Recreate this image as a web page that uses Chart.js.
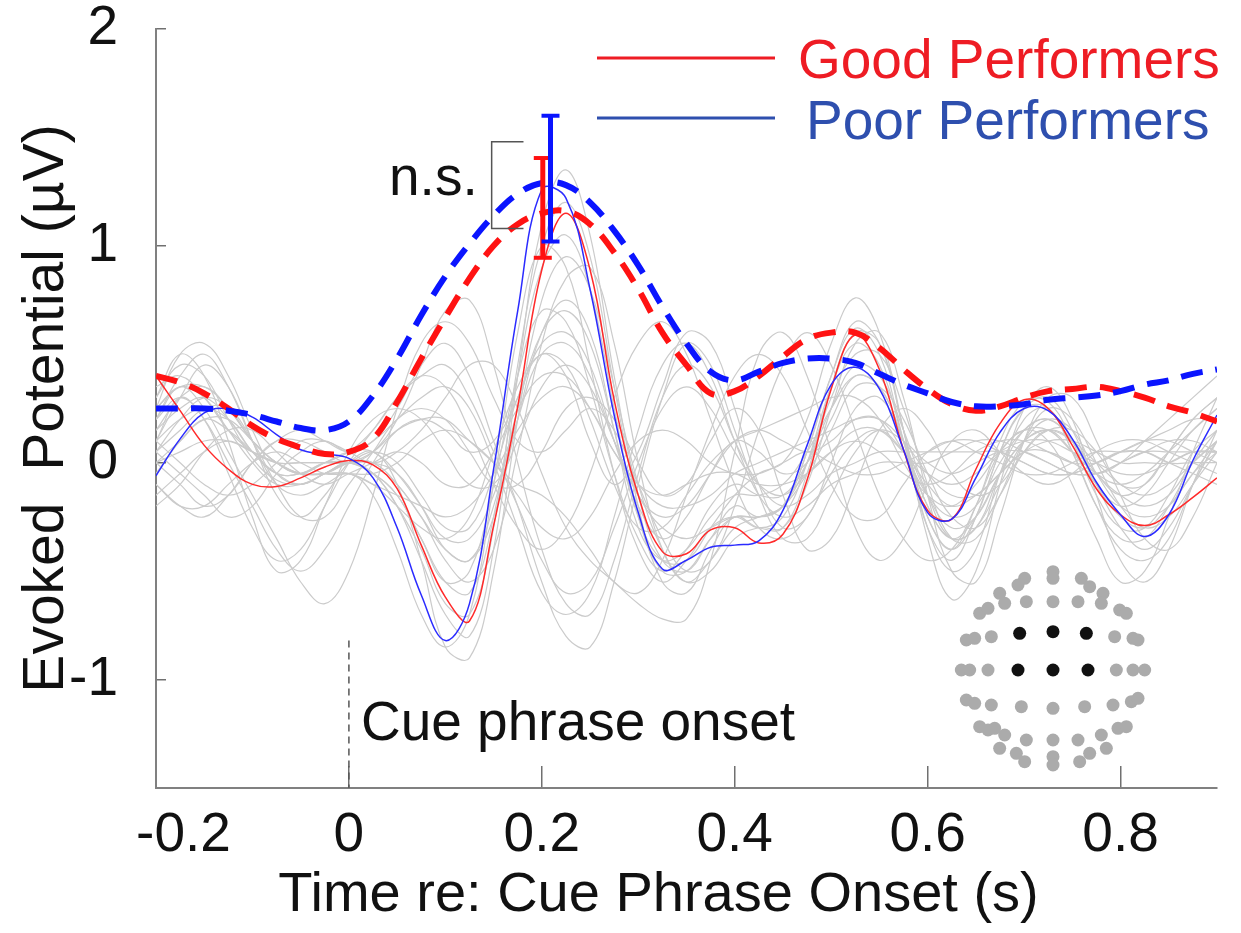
<!DOCTYPE html>
<html>
<head>
<meta charset="utf-8">
<script src="https://cdn.jsdelivr.net/npm/chart.js@4.4.1/dist/chart.umd.min.js"></script>
<style>
  body { margin: 0; background: #fff; }
  #wrap { width: 1241px; height: 933px; }
</style>
</head>
<body>
<div id="wrap"><canvas id="myChart" width="1241" height="933"></canvas></div>
<script>
// Eje de tiempo (s), cada 25 ms
const times = [-0.2, -0.175, -0.15, -0.125, -0.1, -0.075, -0.05, -0.025, 0, 0.025, 0.05, 0.075, 0.1, 0.125, 0.15,
  0.175, 0.2, 0.225, 0.25, 0.275, 0.3, 0.325, 0.35, 0.375, 0.4, 0.425, 0.45, 0.475, 0.5, 0.525, 0.55,
  0.575, 0.6, 0.625, 0.65, 0.675, 0.7, 0.725, 0.75, 0.775, 0.8, 0.825, 0.85, 0.875, 0.9]

// Promedios por grupo (linea fina)
const goodMean = [0.40, 0.24, 0.08, -0.03, -0.10, -0.11, -0.07, -0.02, 0.01, -0.01, -0.12, -0.38, -0.62, -0.73, -0.29,
  0.26, 0.89, 1.15, 0.89, 0.29, -0.15, -0.41, -0.42, -0.31, -0.30, -0.37, -0.33, -0.08, 0.34, 0.59, 0.43,
  0.06, -0.22, -0.26, -0.03, 0.18, 0.29, 0.25, 0.08, -0.12, -0.24, -0.29, -0.24, -0.16, -0.07]
const poorMean = [-0.06, 0.11, 0.23, 0.25, 0.21, 0.13, 0.06, 0.04, 0.02, -0.07, -0.30, -0.61, -0.82, -0.65, -0.03,
  0.70, 1.26, 1.22, 0.80, 0.22, -0.23, -0.49, -0.45, -0.39, -0.38, -0.36, -0.22, 0.08, 0.36, 0.44, 0.34,
  0.06, -0.23, -0.26, -0.07, 0.14, 0.25, 0.24, 0.11, -0.09, -0.24, -0.34, -0.24, 0.01, 0.22]

// Envolventes (linea discontinua gruesa)
const goodEnv = [0.40, 0.37, 0.32, 0.25, 0.17, 0.11, 0.07, 0.04, 0.05, 0.11, 0.28, 0.48, 0.67, 0.85, 1.00,
  1.10, 1.15, 1.16, 1.10, 0.97, 0.80, 0.60, 0.45, 0.32, 0.33, 0.40, 0.49, 0.57, 0.60, 0.60, 0.53,
  0.43, 0.34, 0.27, 0.24, 0.26, 0.30, 0.33, 0.34, 0.35, 0.33, 0.30, 0.26, 0.23, 0.19]
const poorEnv = [0.25, 0.25, 0.25, 0.24, 0.22, 0.19, 0.16, 0.15, 0.19, 0.31, 0.48, 0.68, 0.86, 1.01, 1.14,
  1.24, 1.29, 1.28, 1.20, 1.07, 0.91, 0.72, 0.55, 0.42, 0.38, 0.42, 0.46, 0.48, 0.48, 0.46, 0.41,
  0.36, 0.32, 0.28, 0.26, 0.26, 0.27, 0.29, 0.30, 0.31, 0.33, 0.36, 0.38, 0.41, 0.43]

// Canales individuales (gris)
const channels = [
  [0.30, 0.45, 0.40, 0.20, 0.02, -0.08, -0.10, -0.05, 0.00, -0.05, -0.20, -0.45, -0.70, -0.80, -0.40, 0.40, 1.10, 1.35, 1.05, 0.40, -0.15, -0.45, -0.50, -0.35, -0.20, -0.25, -0.20, 0.05, 0.40, 0.62, 0.50, 0.10, -0.30, -0.45, -0.25, 0.05, 0.25, 0.30, 0.15, -0.10, -0.30, -0.40, -0.30, -0.10, 0.10],
  [0.10, 0.30, 0.45, 0.35, 0.10, -0.15, -0.25, -0.15, 0.00, 0.05, -0.10, -0.45, -0.85, -0.90, -0.50, 0.20, 0.75, 0.95, 0.80, 0.35, -0.10, -0.40, -0.55, -0.50, -0.35, -0.30, -0.30, -0.10, 0.25, 0.55, 0.60, 0.30, -0.15, -0.50, -0.55, -0.25, 0.10, 0.30, 0.30, 0.10, -0.15, -0.35, -0.40, -0.25, 0.00],
  [0.05, -0.05, -0.15, -0.25, -0.20, -0.05, 0.05, 0.10, 0.05, 0.10, 0.25, 0.45, 0.55, 0.40, 0.10, -0.20, -0.55, -0.80, -0.85, -0.55, -0.10, 0.30, 0.55, 0.45, 0.15, -0.15, -0.35, -0.35, -0.15, 0.05, 0.15, 0.10, 0.00, -0.05, 0.00, 0.05, 0.05, 0.00, -0.05, -0.05, 0.00, 0.05, 0.10, 0.10, 0.05],
  [0.20, 0.35, 0.25, 0.05, -0.15, -0.35, -0.55, -0.65, -0.50, -0.15, 0.25, 0.55, 0.65, 0.55, 0.30, 0.10, 0.05, 0.15, 0.25, 0.15, -0.10, -0.35, -0.50, -0.45, -0.20, 0.15, 0.45, 0.60, 0.45, 0.15, -0.15, -0.35, -0.45, -0.40, -0.20, 0.05, 0.15, 0.15, 0.05, -0.05, -0.10, -0.05, 0.05, 0.15, 0.25],
  [-0.15, -0.05, 0.05, 0.10, 0.05, 0.00, -0.05, -0.05, -0.05, -0.10, -0.15, -0.20, -0.25, -0.20, -0.05, 0.15, 0.30, 0.35, 0.25, 0.05, -0.10, -0.15, -0.10, -0.05, -0.05, -0.10, -0.10, -0.05, 0.05, 0.15, 0.15, 0.05, -0.05, -0.10, -0.05, 0.05, 0.10, 0.10, 0.05, 0.00, -0.05, -0.05, 0.00, 0.05, 0.05],
  [0.25, 0.50, 0.55, 0.40, 0.15, -0.05, -0.10, -0.05, 0.00, -0.05, -0.15, -0.35, -0.55, -0.50, -0.10, 0.40, 0.70, 0.65, 0.35, -0.05, -0.35, -0.50, -0.40, -0.20, -0.10, -0.15, -0.15, 0.00, 0.25, 0.45, 0.40, 0.15, -0.15, -0.35, -0.30, -0.10, 0.10, 0.20, 0.15, -0.05, -0.20, -0.25, -0.20, -0.05, 0.05],
  [0.00, 0.10, 0.20, 0.15, 0.05, -0.05, -0.05, 0.00, 0.05, 0.15, 0.30, 0.40, 0.35, 0.15, -0.10, -0.30, -0.40, -0.30, -0.05, 0.30, 0.55, 0.65, 0.50, 0.20, -0.10, -0.30, -0.35, -0.25, -0.05, 0.10, 0.15, 0.05, -0.10, -0.20, -0.15, -0.05, 0.05, 0.05, 0.00, -0.05, 0.00, 0.10, 0.20, 0.30, 0.40],
  [0.10, 0.00, -0.10, -0.15, -0.10, 0.00, 0.10, 0.10, 0.05, 0.00, 0.05, 0.15, 0.30, 0.45, 0.45, 0.25, -0.05, -0.30, -0.45, -0.55, -0.65, -0.72, -0.72, -0.45, 0.05, 0.50, 0.60, 0.40, 0.05, -0.30, -0.45, -0.35, -0.10, 0.10, 0.15, 0.05, -0.05, -0.10, -0.05, 0.05, 0.10, 0.10, 0.05, 0.00, -0.05],
  [0.15, 0.30, 0.35, 0.25, 0.10, 0.00, -0.05, -0.05, 0.00, 0.00, -0.10, -0.25, -0.40, -0.45, -0.20, 0.25, 0.60, 0.70, 0.55, 0.15, -0.25, -0.45, -0.45, -0.30, -0.15, -0.05, 0.00, 0.20, 0.55, 0.76, 0.60, 0.15, -0.35, -0.63, -0.50, -0.10, 0.25, 0.35, 0.20, -0.15, -0.45, -0.55, -0.40, -0.10, 0.15],
  [-0.05, 0.10, 0.20, 0.20, 0.10, 0.00, -0.05, -0.05, -0.05, -0.10, -0.20, -0.30, -0.35, -0.25, 0.05, 0.35, 0.50, 0.45, 0.20, -0.10, -0.30, -0.30, -0.15, 0.00, 0.10, 0.15, 0.20, 0.25, 0.30, 0.30, 0.20, 0.00, -0.15, -0.20, -0.10, 0.05, 0.15, 0.10, -0.10, -0.35, -0.55, -0.50, -0.25, 0.05, 0.30],
  [0.20, 0.30, 0.20, -0.05, -0.30, -0.45, -0.40, -0.20, 0.00, 0.15, 0.30, 0.40, 0.45, 0.30, 0.05, -0.20, -0.45, -0.60, -0.55, -0.30, 0.00, 0.25, 0.35, 0.25, 0.05, -0.10, -0.15, -0.05, 0.05, 0.10, 0.05, -0.05, -0.10, -0.05, 0.05, 0.10, 0.10, 0.05, 0.00, 0.00, 0.05, 0.10, 0.15, 0.20, 0.20],
  [0.35, 0.40, 0.30, 0.15, 0.05, 0.00, 0.00, 0.00, 0.00, -0.05, -0.20, -0.40, -0.65, -0.70, -0.30, 0.45, 1.00, 1.20, 0.95, 0.35, -0.20, -0.55, -0.60, -0.40, -0.25, -0.30, -0.30, -0.05, 0.35, 0.60, 0.55, 0.15, -0.25, -0.40, -0.20, 0.10, 0.28, 0.28, 0.10, -0.15, -0.30, -0.30, -0.15, 0.05, 0.15],
  [-0.20, -0.10, 0.05, 0.15, 0.15, 0.05, -0.05, -0.10, -0.05, 0.00, 0.05, 0.00, -0.10, -0.10, 0.05, 0.25, 0.40, 0.40, 0.25, 0.05, -0.10, -0.20, -0.20, -0.15, -0.05, 0.00, 0.05, 0.10, 0.15, 0.20, 0.20, 0.10, -0.05, -0.15, -0.15, -0.05, 0.05, 0.10, 0.10, 0.05, 0.00, 0.00, 0.00, 0.05, 0.05],
  [0.05, 0.15, 0.25, 0.25, 0.10, -0.10, -0.25, -0.25, -0.10, 0.05, 0.20, 0.25, 0.20, 0.05, -0.10, -0.10, 0.05, 0.25, 0.30, 0.20, 0.00, -0.15, -0.10, 0.10, 0.25, 0.15, -0.15, -0.40, -0.35, -0.10, 0.15, 0.25, 0.15, -0.05, -0.15, -0.10, 0.05, 0.15, 0.15, 0.05, -0.10, -0.10, 0.05, 0.20, 0.30],
  [0.25, 0.35, 0.30, 0.15, 0.00, -0.10, -0.10, -0.05, 0.00, 0.00, -0.10, -0.25, -0.45, -0.55, -0.40, 0.05, 0.55, 0.85, 0.90, 0.55, 0.00, -0.40, -0.55, -0.45, -0.30, -0.25, -0.20, 0.00, 0.30, 0.50, 0.50, 0.25, -0.10, -0.35, -0.35, -0.15, 0.10, 0.25, 0.20, 0.00, -0.20, -0.30, -0.25, -0.10, 0.05],
  [0.00, -0.10, -0.20, -0.15, 0.00, 0.10, 0.15, 0.10, 0.05, 0.10, 0.20, 0.30, 0.35, 0.25, 0.00, -0.30, -0.60, -0.70, -0.60, -0.25, 0.15, 0.45, 0.55, 0.40, 0.10, -0.15, -0.25, -0.20, -0.10, -0.05, 0.00, 0.00, 0.00, 0.05, 0.10, 0.10, 0.05, 0.00, -0.05, -0.05, 0.00, 0.05, 0.05, 0.05, 0.05],
  [0.05, 0.20, 0.30, 0.25, 0.10, 0.00, -0.05, 0.00, 0.05, 0.05, -0.05, -0.20, -0.35, -0.35, -0.15, 0.20, 0.50, 0.55, 0.40, 0.10, -0.15, -0.30, -0.35, -0.30, -0.25, -0.25, -0.20, -0.05, 0.15, 0.35, 0.35, 0.20, -0.05, -0.25, -0.30, -0.15, 0.05, 0.15, 0.10, -0.05, -0.15, -0.20, -0.15, 0.00, 0.10],
  [0.10, 0.30, 0.20, 0.00, -0.20, -0.40, -0.50, -0.40, -0.20, 0.00, 0.15, 0.20, 0.15, 0.05, 0.10, 0.30, 0.55, 0.60, 0.45, 0.10, -0.20, -0.35, -0.25, -0.05, 0.10, 0.05, -0.05, 0.00, 0.20, 0.40, 0.35, 0.10, -0.20, -0.35, -0.25, -0.05, 0.10, 0.15, 0.05, -0.10, -0.20, -0.15, 0.00, 0.15, 0.25],
  [0.20, 0.40, 0.50, 0.35, 0.10, -0.10, -0.15, -0.10, -0.05, -0.15, -0.40, -0.70, -0.85, -0.70, -0.10, 0.60, 1.00, 0.90, 0.45, -0.05, -0.40, -0.55, -0.45, -0.30, -0.25, -0.30, -0.25, 0.00, 0.35, 0.55, 0.45, 0.10, -0.25, -0.40, -0.25, 0.05, 0.25, 0.25, 0.05, -0.20, -0.35, -0.35, -0.20, 0.00, 0.15],
  [-0.10, -0.20, -0.25, -0.15, 0.00, 0.10, 0.10, 0.05, 0.00, 0.05, 0.20, 0.45, 0.70, 0.75, 0.45, 0.00, -0.40, -0.65, -0.70, -0.45, -0.05, 0.30, 0.45, 0.35, 0.10, -0.10, -0.20, -0.15, -0.05, 0.00, 0.05, 0.05, 0.05, 0.05, 0.05, 0.05, 0.00, -0.05, -0.05, 0.00, 0.05, 0.10, 0.10, 0.05, 0.00],
  [0.30, 0.50, 0.40, 0.10, -0.25, -0.50, -0.45, -0.20, 0.05, 0.20, 0.25, 0.20, 0.05, -0.10, -0.10, 0.10, 0.35, 0.45, 0.35, 0.10, -0.15, -0.25, -0.20, -0.05, 0.10, 0.15, 0.10, 0.05, 0.10, 0.20, 0.20, 0.05, -0.15, -0.25, -0.20, 0.00, 0.15, 0.20, 0.10, -0.05, -0.15, -0.10, 0.05, 0.20, 0.30],
  [0.10, 0.20, 0.25, 0.20, 0.05, -0.05, -0.10, -0.05, 0.00, 0.05, 0.00, -0.15, -0.30, -0.30, -0.05, 0.30, 0.50, 0.40, 0.10, -0.10, 0.05, 0.35, 0.60, 0.55, 0.25, -0.10, -0.30, -0.25, 0.00, 0.25, 0.30, 0.10, -0.15, -0.30, -0.25, -0.05, 0.10, 0.15, 0.10, 0.00, -0.10, -0.15, -0.10, 0.00, 0.10],
  [-0.10, -0.20, -0.20, -0.10, 0.00, 0.05, 0.00, -0.05, -0.05, -0.05, 0.00, 0.10, 0.15, 0.10, 0.00, -0.15, -0.30, -0.35, -0.25, -0.05, 0.10, 0.15, 0.10, 0.00, -0.05, -0.05, 0.00, 0.05, 0.00, -0.05, -0.05, 0.00, 0.05, 0.10, 0.10, 0.05, 0.00, -0.05, -0.05, 0.00, 0.05, 0.05, 0.00, -0.05, -0.10],
  [0.25, 0.35, 0.35, 0.25, 0.10, 0.00, -0.05, 0.00, 0.00, -0.05, -0.15, -0.35, -0.55, -0.60, -0.25, 0.40, 0.90, 1.05, 0.80, 0.25, -0.25, -0.50, -0.50, -0.35, -0.25, -0.25, -0.20, 0.05, 0.40, 0.65, 0.55, 0.15, -0.30, -0.50, -0.40, -0.05, 0.20, 0.25, 0.05, -0.20, -0.40, -0.45, -0.35, -0.10, 0.10],
  [0.00, 0.05, 0.10, 0.10, 0.05, 0.00, 0.00, 0.00, 0.00, 0.05, 0.15, 0.20, 0.20, 0.10, 0.00, -0.10, -0.15, -0.25, -0.40, -0.55, -0.60, -0.45, -0.15, 0.15, 0.40, 0.50, 0.40, 0.15, -0.10, -0.25, -0.25, -0.10, 0.05, 0.10, 0.05, 0.00, -0.05, -0.05, 0.00, 0.05, 0.05, 0.05, 0.00, 0.00, 0.00],
  [0.15, 0.25, 0.30, 0.20, 0.05, -0.05, -0.05, 0.00, 0.00, 0.00, -0.05, -0.20, -0.40, -0.45, -0.25, 0.20, 0.60, 0.75, 0.60, 0.15, -0.30, -0.45, -0.40, -0.25, -0.15, -0.15, -0.10, 0.05, 0.25, 0.40, 0.35, 0.10, -0.20, -0.35, -0.30, -0.05, 0.15, 0.20, 0.10, -0.10, -0.25, -0.30, -0.20, -0.05, 0.10]
]

// Barras de error en el pico: [tiempo, minimo, maximo]
const goodErr = [0.201, 0.945, 1.405]
const poorErr = [0.209, 1.02, 1.60]

// Corchete "n.s.": esquinas
const nsX = [0.181, 0.148, 0.148, 0.181]
const nsY = [1.48, 1.48, 1.08, 1.08]

// Linea de inicio de la frase
const onsetX = [0, 0]
const onsetY = [-0.82, -1.5]

// Ticks
const xTicks = [-0.2, 0, 0.2, 0.4, 0.6, 0.8]
const yTicks = [-1, 0, 1, 2]

// Mapa de electrodos (coordenadas en la cabeza)
const headU = [0, 0, -0.85, -1.05, 0.85, 1.1,
  -1.6, -1.45, -0.8, 0, 0.75, 1.5, 1.45,
  -2.2, -1.95, 2.0, 2.2,
  -2.6, -2.35, -1.85, 1.85, 2.4, 2.55,
  -2.75, -2.5, -1.95, 1.9, 2.4, 2.75,
  -2.6, -2.35, -1.85, -0.95, 0, 0.95, 1.8, 2.35, 2.55,
  -2.2, -1.95, -1.75, -1.45, -0.8, 0, 0.75, 1.45, 1.95, 2.2,
  -1.6, -1.1, -0.85, 0, 0, 0.8, 1.1, 1.6]
const headV = [2.95, 2.75, 2.75, 2.55, 2.75, 2.5,
  2.3, 2.0, 2.05, 2.05, 2.05, 2.3, 2.0,
  1.7, 1.85, 1.8, 1.7,
  0.9, 0.95, 1.0, 1.0, 0.95, 0.9,
  0, 0, 0, 0, 0, 0,
  -0.9, -1.0, -1.05, -1.1, -1.15, -1.1, -1.05, -0.95, -0.85,
  -1.7, -1.8, -1.75, -1.95, -2.1, -2.1, -2.1, -1.95, -1.75, -1.7,
  -2.35, -2.5, -2.75, -2.6, -2.85, -2.75, -2.5, -2.35]
const roiU = [-1.0, 0, 1.0, -1.05, 0, 1.05]
const roiV = [1.1, 1.15, 1.1, 0, 0, 0]

const FONT = "'Liberation Sans', Arial, Helvetica, sans-serif"

const toPts = (ys) => ys.map((y, i) => ({ x: times[i], y: y }))
const zipPts = (xs, ys) => xs.map((x, i) => ({ x: x, y: ys[i] }))

const datasets = []

// Barras de error (encima de todo)
const addErr = (e, color) => {
  datasets.push({
    data: [{ x: e[0], y: e[1] }, { x: e[0], y: e[2] }],
    borderColor: color, borderWidth: 5, tension: 0,
    pointStyle: 'line', pointRadius: 9, pointBorderWidth: 4,
    pointBorderColor: color, order: 1
  })
}
addErr(poorErr, '#0a14ff')
addErr(goodErr, '#ff1010')

datasets.push({
  data: zipPts(nsX, nsY), borderColor: '#555', borderWidth: 1.5,
  tension: 0, pointRadius: 0, order: 2
})

datasets.push({
  data: zipPts(onsetX, onsetY), borderColor: '#555', borderWidth: 1.5,
  borderDash: [7, 5], tension: 0, pointRadius: 0, order: 2
})

datasets.push({
  data: toPts(poorEnv), borderColor: '#0a14ff', borderWidth: 6,
  borderDash: [22, 13], tension: 0.4, pointRadius: 0, order: 3
})
datasets.push({
  data: toPts(goodEnv), borderColor: '#ff1212', borderWidth: 6,
  borderDash: [22, 13], tension: 0.4, pointRadius: 0, order: 4
})
datasets.push({
  data: toPts(poorMean), borderColor: '#2b2bff', borderWidth: 1.5,
  tension: 0.4, pointRadius: 0, order: 5
})
datasets.push({
  data: toPts(goodMean), borderColor: '#ff2a2a', borderWidth: 1.5,
  tension: 0.4, pointRadius: 0, order: 6
})

channels.forEach(ch => {
  datasets.push({
    data: toPts(ch), borderColor: '#cbcbcb', borderWidth: 1.2,
    tension: 0.4, pointRadius: 0, order: 20
  })
})

// Mapa de electrodos con ejes propios ocultos
datasets.push({
  data: zipPts(headU, headV), xAxisID: 'hx', yAxisID: 'hy', showLine: false,
  pointRadius: 6.5, pointBackgroundColor: '#ababab', pointBorderWidth: 0, order: 10, clip: false
})
datasets.push({
  data: zipPts(roiU, roiV), xAxisID: 'hx', yAxisID: 'hy', showLine: false,
  pointRadius: 6.5, pointBackgroundColor: '#111', pointBorderWidth: 0, order: 9, clip: false
})

// Textos: leyenda, n.s. y marca de inicio
const textPlugin = {
  id: 'textos',
  afterDraw(chart) {
    const ctx = chart.ctx
    const xs = chart.scales.x
    const ys = chart.scales.y
    ctx.save()
    ctx.font = '55px ' + FONT
    ctx.textBaseline = 'alphabetic'

    // leyenda
    ctx.lineWidth = 3
    ctx.strokeStyle = '#ee1c24'
    ctx.beginPath(); ctx.moveTo(597, 58); ctx.lineTo(775, 58); ctx.stroke()
    ctx.fillStyle = '#ee1c24'
    ctx.textAlign = 'left'
    ctx.fillText('Good Performers', 798, 78)
    ctx.strokeStyle = '#2e4fae'
    ctx.beginPath(); ctx.moveTo(597, 118); ctx.lineTo(775, 118); ctx.stroke()
    ctx.fillStyle = '#2e4fae'
    ctx.fillText('Poor Performers', 806, 139)

    // n.s.
    ctx.fillStyle = '#111'
    ctx.textAlign = 'right'
    ctx.fillText('n.s.', xs.getPixelForValue(nsX[1]) - 14, ys.getPixelForValue(1.235))

    // Cue phrase onset
    ctx.textAlign = 'left'
    ctx.fillText('Cue phrase onset', xs.getPixelForValue(0) + 12, ys.getPixelForValue(-1.277))
    ctx.restore()
  }
}

const ctx = document.querySelector('#myChart').getContext('2d')
const myChart = new Chart(ctx, {
  type: 'line',
  data: { datasets: datasets },
  plugins: [textPlugin],
  options: {
    responsive: false,
    animation: false,
    devicePixelRatio: 1,
    layout: { padding: { left: 0, top: 29, right: 24, bottom: 0 } },
    plugins: { legend: { display: false }, tooltip: { enabled: false } },
    scales: {
      x: {
        type: 'linear', position: 'bottom', min: -0.2, max: 0.9,
        afterFit: (s) => { s.height = 145; s.paddingLeft = 0; s.paddingRight = 0 },
        afterBuildTicks: (s) => { s.ticks = xTicks.map(v => ({ value: v })) },
        grid: { drawOnChartArea: false, drawTicks: true, tickLength: -22, color: '#707070', lineWidth: 1.5 },
        border: { display: true, color: '#808080', width: 2 },
        ticks: {
          padding: 37, color: '#111', maxRotation: 0, autoSkip: false,
          font: { family: FONT, size: 55 },
          callback: (v) => v === -0.2 ? '\u2002\u2002-0.2' : String(Math.round(v * 10) / 10)
        },
        title: {
          display: true, text: 'Time re: Cue Phrase Onset (s)\u2002\u2002', color: '#111',
          font: { family: FONT, size: 56 }, padding: { top: 0, bottom: 4 }
        }
      },
      y: {
        type: 'linear', position: 'left', min: -1.5, max: 2,
        afterFit: (s) => { s.width = 156; s.paddingTop = 0; s.paddingBottom = 0 },
        afterBuildTicks: (s) => { s.ticks = yTicks.map(v => ({ value: v })) },
        grid: { drawOnChartArea: false, drawTicks: true, tickLength: -10, color: '#707070', lineWidth: 1.5 },
        border: { display: true, color: '#808080', width: 2 },
        ticks: {
          padding: 48, color: '#111', font: { family: FONT, size: 55 },
          callback: (v) => String(v)
        },
        title: {
          display: true, text: 'Evoked  Potential (\u00b5V)', color: '#111',
          font: { family: FONT, size: 57 }, padding: { top: 13, bottom: 0 }
        }
      },
      hx: { type: 'linear', display: false, min: -26.91, max: 4.92 },
      hy: { type: 'linear', display: false, min: -3.54, max: 19.23 }
    }
  }
})
</script>
</body>
</html>
